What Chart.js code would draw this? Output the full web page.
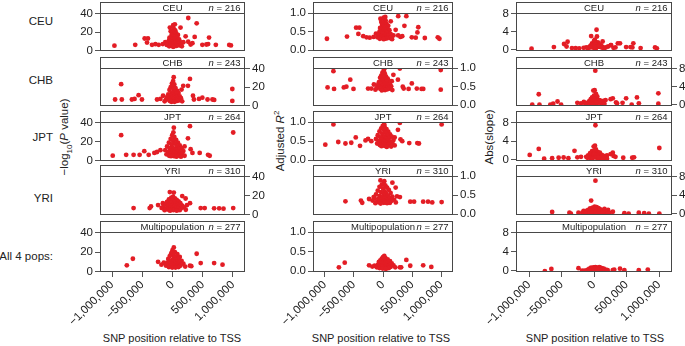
<!DOCTYPE html>
<html>
<head>
<meta charset="utf-8">
<script src="https://cdn.jsdelivr.net/npm/chart.js@4.4.1/dist/chart.umd.min.js"></script>
<style>
body{margin:0;background:#fff;overflow:hidden}
#fig{position:relative;width:685px;height:346px;font-family:"Liberation Sans",Arial,sans-serif;color:#222}
#fig canvas{position:absolute}
.lbl{position:absolute;font-size:11.5px;white-space:nowrap;line-height:1}
.rot{transform:translate(-50%,-50%) rotate(-90deg)}
sub,sup{font-size:8px;line-height:0}
</style>
</head>
<body>
<div id="fig">
  <div class="lbl" style="right:632px;top:16px">CEU</div>
  <div class="lbl" style="right:632px;top:75px">CHB</div>
  <div class="lbl" style="right:632px;top:132px">JPT</div>
  <div class="lbl" style="right:632px;top:193px">YRI</div>
  <div class="lbl" style="right:632px;top:251px">All 4 pops:</div>
  <div class="lbl rot" style="left:65px;top:137px">&minus;log<sub>10</sub>(<i>P</i> value)</div>
  <div class="lbl rot" style="left:281px;top:141px">Adjusted <i>R</i><sup>2</sup></div>
  <div class="lbl rot" style="left:490px;top:137px">Abs(slope)</div>
  <div class="lbl" style="left:172px;top:333px;transform:translateX(-50%);font-size:11px">SNP position relative to TSS</div>
  <div class="lbl" style="left:381px;top:333px;transform:translateX(-50%);font-size:11px">SNP position relative to TSS</div>
  <div class="lbl" style="left:595px;top:333px;transform:translateX(-50%);font-size:11px">SNP position relative to TSS</div>
</div>
<script>
const stripNames = ['CEU', 'CHB', 'JPT', 'YRI', 'Multipopulation'];
const sampleSizes = [216, 243, 264, 310, 277];
const xTicks = [-1000000, -500000, 0, 500000, 1000000];
const logpTicks = [0, 20, 40];
const r2Ticks = [0, 0.5, 1];
const slopeTicks = [0, 4, 8];

// each SNP: [position relative to TSS (kb), -log10 P, adjusted R2, abs(slope)]
const ceu = [
  [-961, 5.2, 0.31, 0.2], [-617, 6.2, 0.37, 0.56], [-461, 13.1, 0.61, 1.25], [-406, 13.1, 0.61, 1.74],
  [-422, 8.6, 0.44, 0.7], [-339, 6.2, 0.38, 0.35], [-283, 6.9, 0.35, 0.35], [-228, 6.2, 0.34, 0.3],
  [-160, 7, 0.36, 0.4], [-120, 9, 0.45, 0.5],
  [261, 35.5, 0.92, 1.0], [400, 29.7, 0.92, 1.4], [367, 14.8, 0.66, 1.4], [217, 15.5, 0.55, 0.7],
  [180, 9, 0.4, 0.5], [260, 9.5, 0.4, 1.0], [300, 6.5, 0.36, 0.4], [330, 8, 0.38, 0.5],
  [605, 14.1, 0.62, 1.4], [494, 6.2, 0.35, 0.56], [561, 6.5, 0.34, 0.56], [590, 7, 0.48, 0.5],
  [717, 6.2, 0.33, 0.35], [939, 6, 0.35, 0.5], [967, 5.5, 0.31, 0.3],
  [-44, 25, 0.85, 3.0], [11, 27.6, 0.88, 2.2], [39, 28.6, 0.9, 4.4], [20, 24, 0.84, 1.7], [45, 22, 0.8, 2.9],
  [133, 25, 0.78, 1.8], [-30, 21, 0.76, 1.4], [0, 20, 0.74, 1.9], [60, 19, 0.72, 1.6], [30, 18, 0.7, 1.3],
  [-15, 17, 0.68, 1.2], [90, 17, 0.66, 1.1], [10, 16, 0.64, 1.5], [50, 15, 0.62, 1.0], [-50, 14, 0.6, 0.9],
  [75, 14, 0.58, 1.2], [-20, 13, 0.57, 1.0], [25, 13, 0.56, 0.8], [110, 12, 0.54, 0.9], [5, 12, 0.52, 1.3],
  [-60, 11, 0.5, 0.7], [40, 11, 0.5, 1.1], [-35, 10, 0.48, 0.6], [70, 10, 0.47, 0.9], [15, 9.5, 0.46, 0.8],
  [130, 9, 0.44, 0.6], [-10, 9, 0.44, 1.0], [55, 8.5, 0.42, 0.7], [-80, 8, 0.41, 0.5], [35, 8, 0.4, 0.9],
  [95, 7.5, 0.39, 0.6], [-25, 7, 0.38, 0.8], [0, 7, 0.37, 0.5], [20, 6.5, 0.36, 1.1], [140, 6, 0.35, 0.4],
  [-95, 6, 0.35, 0.3], [45, 5.5, 0.34, 0.6], [120, 5.5, 0.33, 0.5], [-5, 5, 0.33, 0.4], [65, 5, 0.32, 0.7],
  [30, 4.5, 0.31, 0.3], [-55, 4.5, 0.31, 0.5], [155, 4.5, 0.3, 0.2], [10, 4, 0.3, 0.6]
];
const chb = [
  [-850, 23.3, 0.92, 2.3], [-950, 6.5, 0.48, 0.0], [-839, 6.5, 0.44, 0.0], [-672, 6.5, 0.48, 0.0],
  [-628, 7.2, 0.5, 0.2], [-561, 11.3, 0.69, 0.7], [-506, 6.5, 0.44, 0.0], [-256, 6.5, 0.45, 0.4],
  [-200, 7.2, 0.45, 0.3], [-156, 10.6, 0.56, 0.6],
  [289, 29, 0.99, 1.4], [178, 21.5, 0.82, 1.0], [256, 21.5, 0.69, 1.2], [150, 17.4, 0.65, 0.8],
  [339, 10.6, 0.5, 0.5], [355, 6.5, 0.45, 0.3], [439, 7.2, 0.44, 0.4], [494, 8.5, 0.59, 1.4],
  [580, 6.5, 0.45, 0.0], [661, 6.5, 0.44, 1.6], [690, 6, 0.44, 0.3], [990, 18, 0.95, 2.5], [990, 5, 0.42, 0.2],
  [20, 31, 0.97, 7.5], [10, 26.7, 0.92, 3.2], [-10, 24, 0.88, 3.1], [30, 23, 0.86, 2.4], [0, 21, 0.84, 2.0],
  [-30, 20, 0.8, 1.6], [50, 19, 0.78, 1.8], [15, 18, 0.76, 1.4], [-50, 17, 0.74, 1.2], [80, 16, 0.72, 1.0],
  [35, 15, 0.7, 1.3], [-15, 14, 0.68, 1.1], [100, 13.5, 0.66, 0.9], [60, 13, 0.64, 1.0], [-70, 12, 0.62, 0.8],
  [5, 12, 0.6, 1.2], [45, 11, 0.59, 0.9], [-40, 10.5, 0.58, 0.7], [120, 10, 0.56, 0.6], [25, 10, 0.55, 1.0],
  [-90, 9, 0.54, 0.5], [70, 9, 0.53, 0.8], [-5, 8.5, 0.52, 0.9], [140, 8, 0.51, 0.5], [40, 8, 0.5, 0.7],
  [-60, 7.5, 0.49, 0.4], [90, 7, 0.48, 0.6], [10, 7, 0.48, 0.8], [-25, 6.5, 0.47, 0.5], [55, 6, 0.46, 0.4],
  [-110, 6, 0.46, 0.3], [110, 5.5, 0.45, 0.3], [20, 5.5, 0.44, 0.6], [-45, 5, 0.44, 0.2], [75, 5, 0.43, 0.5],
  [0, 4.5, 0.42, 0.3], [-130, 4.5, 0.42, 0.1], [160, 4.5, 0.41, 0.2], [35, 4, 0.41, 0.4], [-20, 4, 0.4, 0.1]
];
const jpt = [
  [-850, 27, 0.94, 2.3], [-989, 5.1, 0.41, 1.0], [-767, 6, 0.48, 0.2], [-644, 6, 0.44, 0.3],
  [-544, 6, 0.46, 0.4], [-467, 9.9, 0.6, 0.45], [-394, 6, 0.38, 0.3], [-300, 8, 0.52, 1.9],
  [-256, 9, 0.56, 0.5], [-200, 11, 0.5, 0.6],
  [289, 36.6, 0.98, 1.5], [256, 23.6, 0.8, 1.2], [22, 34.9, 0.94, 7.4], [200, 15, 0.6, 0.9],
  [300, 12, 0.55, 0.8], [330, 8, 0.5, 0.6], [450, 8, 0.45, 0.4], [588, 6, 0.45, 0.4], [616, 5, 0.44, 0.5],
  [1005, 29.8, 0.94, 2.5],
  [15, 30, 0.92, 3.0], [-5, 27, 0.9, 2.8], [30, 25, 0.86, 2.2], [-30, 23, 0.84, 1.8], [60, 22, 0.82, 1.6],
  [10, 21, 0.8, 2.0], [-60, 19, 0.76, 1.4], [90, 19, 0.75, 1.5], [40, 18, 0.72, 1.2], [-15, 17, 0.7, 1.1],
  [120, 16, 0.68, 1.0], [-90, 15, 0.66, 0.9], [70, 15, 0.65, 1.1], [0, 14, 0.63, 1.3], [150, 13, 0.62, 0.8],
  [-45, 13, 0.6, 0.9], [25, 12, 0.59, 1.0], [100, 12, 0.58, 0.7], [-120, 11, 0.56, 0.6], [50, 11, 0.56, 0.9],
  [-20, 10, 0.55, 0.8], [180, 10, 0.53, 0.5], [80, 9.5, 0.52, 0.7], [5, 9, 0.5, 1.0], [-70, 9, 0.5, 0.6],
  [130, 8.5, 0.49, 0.6], [35, 8, 0.48, 0.8], [-35, 7.5, 0.47, 0.5], [160, 7, 0.46, 0.4], [60, 7, 0.45, 0.6],
  [-100, 6.5, 0.44, 0.4], [15, 6.5, 0.44, 0.7], [110, 6, 0.43, 0.5], [-10, 5.5, 0.42, 0.5], [45, 5.5, 0.41, 0.4],
  [-55, 5, 0.4, 0.3], [90, 5, 0.4, 0.3], [200, 5, 0.39, 0.2], [25, 4.5, 0.38, 0.5], [-25, 4.5, 0.37, 0.2],
  [140, 4, 0.36, 0.3], [65, 4, 0.35, 0.4]
];
const yri = [
  [-644, 6.8, 0.34, 0.35], [-378, 6.8, 0.36, 0.2], [-356, 8.5, 0.3, 0.0], [-239, 10, 0.4, 0.2],
  [-160, 12, 0.45, 0.6], [161, 19.6, 0.83, 1.0], [217, 17, 0.7, 0.8], [240, 10, 0.47, 0.2],
  [290, 12, 0.45, 0.4], [467, 6.8, 0.33, 0.1], [533, 6.8, 0.33, 0.0], [689, 6.5, 0.33, 0.2],
  [772, 6.5, 0.33, 0.1], [844, 6.2, 0.31, 0.0], [1005, 6.8, 0.32, 0.0],
  [22, 23.3, 0.87, 7.1], [-44, 23.9, 0.89, 2.8], [10, 19, 0.8, 1.5], [-20, 18, 0.78, 1.3], [40, 17, 0.76, 1.4],
  [-60, 16, 0.72, 1.1], [70, 15.5, 0.7, 1.2], [0, 15, 0.68, 1.0], [100, 14, 0.64, 0.9], [-90, 13.5, 0.62, 0.8],
  [30, 13, 0.6, 1.1], [-30, 12.5, 0.58, 0.9], [130, 12, 0.56, 0.7], [55, 11.5, 0.54, 0.8], [-120, 11, 0.52, 0.6],
  [15, 10.5, 0.5, 1.0], [85, 10, 0.49, 0.7], [-55, 10, 0.48, 0.6], [160, 9.5, 0.46, 0.4], [-5, 9, 0.45, 0.9],
  [45, 9, 0.44, 0.6], [-150, 8.5, 0.42, 0.3], [110, 8.5, 0.42, 0.5], [-80, 8, 0.41, 0.5], [25, 8, 0.4, 0.8],
  [190, 7.5, 0.38, 0.3], [-35, 7.5, 0.38, 0.6], [65, 7, 0.37, 0.5], [-180, 7, 0.36, 0.2], [140, 6.5, 0.35, 0.3],
  [5, 6.5, 0.35, 0.7], [-100, 6, 0.34, 0.3], [95, 6, 0.33, 0.4], [-15, 5.5, 0.33, 0.4], [40, 5.5, 0.32, 0.5],
  [220, 5, 0.31, 0.1], [-65, 5, 0.31, 0.2], [120, 4.5, 0.3, 0.2], [15, 4.5, 0.3, 0.3], [-130, 4.5, 0.29, 0.1],
  [70, 4, 0.29, 0.3], [-40, 4, 0.28, 0.2]
];
const multi = [
  [-756, 6.3, 0.1, -0.1], [-656, 13.2, 0.22, 0.35], [-239, 10, 0.15, 0.5], [-183, 7, 0.12, 0.0],
  [-144, 9, 0.14, 0.0], [-106, 6, 0.1, 0.1], [400, 18.4, 0.29, 0.4], [467, 8.7, 0.14, 0.1],
  [289, 6, 0.1, 0.1], [311, 5.5, 0.1, 0.2], [689, 8.7, 0.15, 0.1], [828, 7, 0.11, 0.2],
  [22, 25, 0.39, 0.7], [0, 22, 0.36, 0.65], [40, 20, 0.34, 0.6], [-20, 19, 0.32, 0.55], [80, 18, 0.3, 0.7],
  [10, 17, 0.3, 0.5], [-45, 16, 0.28, 0.6], [60, 15, 0.27, 0.45], [120, 15, 0.26, 0.5], [25, 14, 0.25, 0.55],
  [-70, 13, 0.24, 0.4], [95, 13, 0.24, 0.6], [0, 12, 0.22, 0.35], [45, 12, 0.22, 0.5], [150, 11, 0.2, 0.4],
  [-30, 11, 0.2, 0.45], [70, 10, 0.19, 0.3], [15, 10, 0.18, 0.6], [-85, 9, 0.17, 0.25], [110, 9, 0.17, 0.35],
  [35, 8.5, 0.16, 0.4], [-10, 8, 0.15, 0.3], [180, 8, 0.15, 0.2], [55, 7.5, 0.14, 0.3], [-55, 7, 0.13, 0.2],
  [90, 7, 0.13, 0.4], [5, 6.5, 0.12, 0.25], [130, 6, 0.11, 0.15], [-25, 6, 0.11, 0.35], [65, 5.5, 0.1, 0.2],
  [210, 5, 0.1, 0.1], [30, 5, 0.09, 0.3], [-60, 4.5, 0.08, 0.1], [100, 4.5, 0.08, 0.2], [-5, 4, 0.07, 0.15],
  [50, 4, 0.06, 0.25]
];
const snpTables = [ceu, chb, jpt, yri, multi];

// panel boxes in page pixels
const colBoxes = [{l: 100, r: 245}, {l: 313, r: 453}, {l: 516, r: 672}];
const rowBoxes = [{t: 13, b: 53}, {t: 68, b: 108}, {t: 122, b: 163}, {t: 176, b: 217}, {t: 232, b: 272}];
const measures = [
  {idx: 1, ticks: logpTicks, min: -0.6, max: 41, fmt: v => String(v)},
  {idx: 2, ticks: r2Ticks, min: -0.02, max: 1.005, fmt: v => v.toFixed(1)},
  {idx: 3, ticks: slopeTicks, min: -0.3, max: 8.1, fmt: v => String(v)}
];

const FONT = '"Liberation Sans", Arial, sans-serif';
Chart.defaults.font.family = FONT;
Chart.defaults.color = '#222';

const stripPlugin = {
  id: 'strip',
  afterDraw(chart, args, o) {
    const {ctx, chartArea: a} = chart;
    const L = Math.round(a.left) + 0.5, R = Math.round(a.right) - 0.5;
    const M = Math.round(a.top) + 0.5, T = M - 11, B = Math.round(a.bottom) - 0.5;
    ctx.save();
    ctx.strokeStyle = '#474747';
    ctx.lineWidth = 1;
    ctx.strokeRect(L, T, R - L, B - T);
    ctx.beginPath(); ctx.moveTo(L, M); ctx.lineTo(R, M); ctx.stroke();
    ctx.fillStyle = '#222';
    ctx.textBaseline = 'middle';
    const ty = (T + M) / 2 + 0.5;
    ctx.font = '9.5px ' + FONT;
    ctx.textAlign = 'center';
    ctx.fillText(o.name, (L + R) / 2, ty);
    ctx.textAlign = 'right';
    const rest = ' = ' + o.n;
    ctx.fillText(rest, R - 4, ty);
    const w = ctx.measureText(rest).width;
    ctx.font = 'italic 9.5px ' + FONT;
    ctx.fillText('n', R - 4 - w, ty);
    ctx.restore();
  }
};

function fmtPos(v) {
  return (v < 0 ? '\u2212' : '') + Math.abs(v).toLocaleString('en-US');
}

const fig = document.getElementById('fig');
rowBoxes.forEach((rb, r) => {
  const last = r === rowBoxes.length - 1;
  const leftAxis = r % 2 === 0;
  colBoxes.forEach((cb, c) => {
    const m = measures[c];
    const cv = document.createElement('canvas');
    const W = cb.r - cb.l + 80;
    const H = rb.b - rb.t + 12 + (last ? 62 : 2);
    cv.width = W; cv.height = H;
    cv.style.left = (cb.l - 40) + 'px';
    cv.style.top = (rb.t - 12) + 'px';
    fig.appendChild(cv);

    new Chart(cv, {
      type: 'scatter',
      data: {
        datasets: [{
          data: snpTables[r].map(s => ({x: s[0] * 1000, y: s[m.idx]})),
          backgroundColor: '#e31d25',
          pointRadius: 2.4,
          borderWidth: 0
        }]
      },
      options: {
        responsive: false,
        animation: false,
        devicePixelRatio: 1,
        layout: {padding: {left: leftAxis ? 0 : 40, right: leftAxis ? 40 : 0, top: 12, bottom: last ? 0 : 2}},
        plugins: {
          legend: {display: false},
          tooltip: {enabled: false},
          strip: {name: stripNames[r], n: sampleSizes[r]}
        },
        scales: {
          x: {
            type: 'linear', min: -1200000, max: 1200000, display: last,
            afterBuildTicks: s => { s.ticks = xTicks.map(v => ({value: v})); },
            afterFit: s => {
              if (last) s.height = 62;
              s.paddingLeft = 0; s.paddingRight = 0;
            },
            ticks: {minRotation: 45, maxRotation: 45, autoSkip: false, padding: 1, font: {size: 11.5}, callback: fmtPos},
            grid: {drawOnChartArea: false, tickLength: 5, color: '#555'},
            border: {display: false}
          },
          y: {
            position: leftAxis ? 'left' : 'right', min: m.min, max: m.max,
            afterBuildTicks: s => { s.ticks = m.ticks.map(v => ({value: v})); },
            afterFit: s => { s.width = 40; s.paddingTop = 0; s.paddingBottom = 0; },
            ticks: {padding: 2, font: {size: 11.5}, callback: m.fmt},
            grid: {drawOnChartArea: false, tickLength: 5, color: '#555'},
            border: {display: false}
          }
        }
      },
      plugins: [stripPlugin]
    });
  });
});
</script>
</body>
</html>
